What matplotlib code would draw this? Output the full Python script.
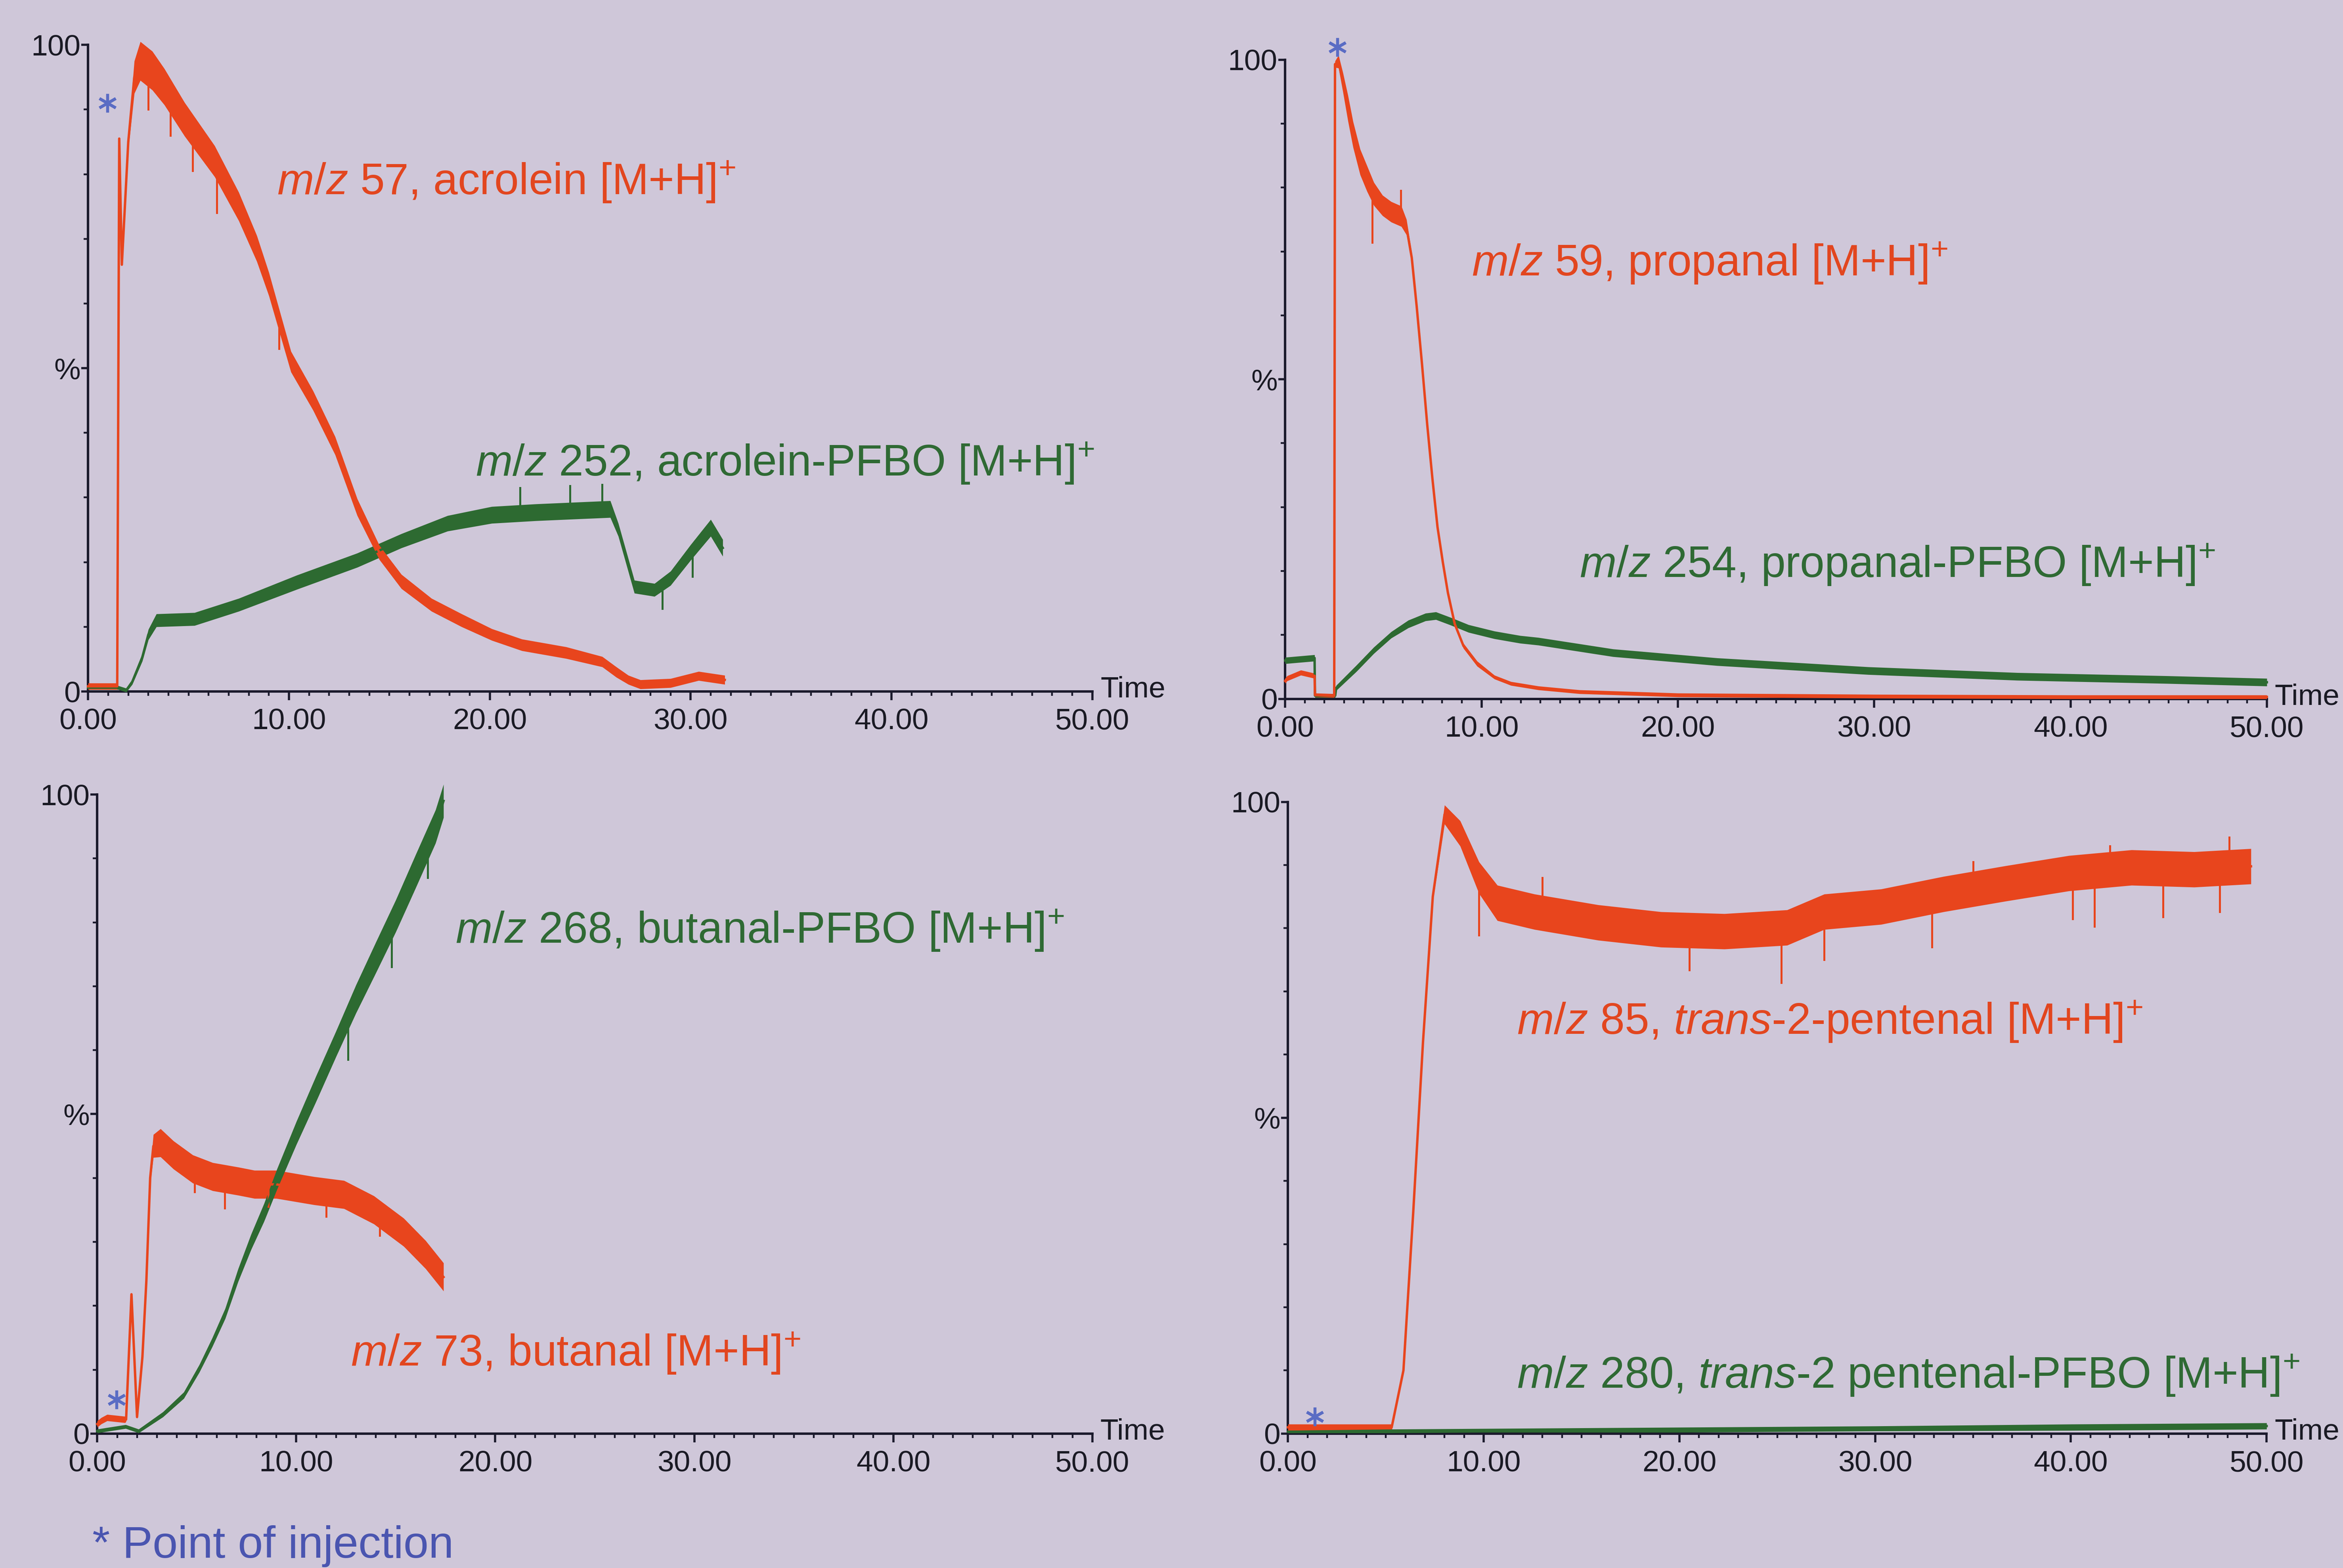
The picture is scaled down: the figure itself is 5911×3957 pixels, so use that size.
import numpy as np
import matplotlib
matplotlib.use("Agg")
import matplotlib.pyplot as plt
from matplotlib.ticker import FixedLocator, MultipleLocator

plt.rcParams["font.family"] = ["Liberation Sans", "DejaVu Sans"]
plt.rcParams["mathtext.fontset"] = "custom"
plt.rcParams["mathtext.rm"] = "Liberation Sans"
plt.rcParams["mathtext.it"] = "Liberation Sans:italic"
plt.rcParams["mathtext.bf"] = "Liberation Sans:bold"

# ---------------- data (time in min, relative intensity in %) ----------------
# acrolein panel
acr57_t = [0, 1.45, 1.55, 1.68, 2.0, 2.3, 2.6, 3.2, 3.8, 4.8, 6.3, 7.5, 8.4, 9.0, 10.1, 11.2,
           12.3, 13.4, 14.5, 15.6, 17.1, 18.6, 20.1, 21.6, 23.8, 25.6, 26.3, 26.9, 27.5, 29.0,
           30.4, 31.7]
acr57_v = [0.8, 0.8, 85.5, 66, 85, 95, 97.5, 96, 93.5, 88.5, 82, 75, 68.5, 63, 51, 45,
           38, 28.5, 21.5, 17, 13.4, 11, 8.8, 7.2, 6, 4.6, 3, 1.8, 1.1, 1.3,
           2.4, 1.8]
acr57_s = [0.5, 0.5, 0.3, 0.3, 1.2, 2.5, 3.0, 3.0, 2.8, 2.6, 2.4, 2.2, 2.0, 1.8, 1.6, 1.5,
           1.4, 1.3, 1.1, 1.1, 1.0, 1.0, 0.9, 0.9, 0.9, 0.8, 0.8, 0.7, 0.7, 0.7,
           0.7, 0.7]
acr57_spikes = [(3.0, 90.0), (4.1, 86.0), (5.2, 80.5), (6.4, 74.0), (9.5, 53.0)]

acr252_t = [0, 1.5, 1.9, 2.2, 2.7, 3.0, 3.4, 5.3, 7.5, 10.4, 13.4, 15.6, 17.9, 20.1, 22.3,
            24.5, 26.0, 26.4, 27.2, 28.2, 29.0, 30.0, 31.0, 31.6]
acr252_v = [0.6, 0.6, 0.2, 1.5, 5.3, 8.8, 11, 11.2, 13.4, 16.9, 20.3, 23.3, 26, 27.3, 27.7,
            28, 28.2, 25, 16.2, 15.7, 17.5, 21.5, 25.3, 22.2]
acr252_s = [0.3, 0.3, 0.3, 0.4, 0.6, 0.8, 1.0, 1.0, 1.0, 1.1, 1.1, 1.1, 1.2, 1.3, 1.3,
            1.3, 1.3, 1.0, 1.0, 1.0, 1.1, 1.2, 1.3, 1.3]
acr252_spikes = [(21.5, 31.5), (24.0, 31.8), (25.6, 32.0), (28.6, 12.8), (30.1, 17.8)]

# propanal panel
pro59_t = [0, 0.1, 0.8, 1.5, 1.52, 2.5, 2.54, 2.72, 2.94, 3.2, 3.46, 3.82, 4.17, 4.52, 4.96,
           5.4, 5.92, 6.18, 6.45, 6.7, 6.97, 7.24, 7.5, 7.76, 8.03, 8.29, 8.64, 9.08, 9.78,
           10.66, 11.5, 12.9, 15, 20, 30, 40, 50]
pro59_v = [2.8, 3.2, 4.1, 3.6, 0.6, 0.5, 99.3, 99.7, 96.5, 92.4, 88.3, 84, 81.4, 79, 77.2,
           76.2, 75.5, 73.8, 69, 61.4, 52.4, 42.8, 34.5, 26.9, 21.4, 16.6, 11.7, 8.3, 5.5,
           3.4, 2.4, 1.7, 1.1, 0.6, 0.4, 0.3, 0.3]
pro59_s = [0.4, 0.4, 0.4, 0.4, 0.3, 0.3, 0.5, 1.0, 1.5, 2.0, 2.0, 2.0, 2.0, 1.8, 1.6,
           1.6, 1.6, 1.2, 0.8, 0.6, 0.5, 0.5, 0.5, 0.5, 0.4, 0.4, 0.4, 0.4, 0.4,
           0.3, 0.3, 0.3, 0.3, 0.3, 0.3, 0.3, 0.3]
pro59_spikes = [(4.43, 71.4), (5.9, 79.5)]

pro254_t = [0, 1.5, 1.52, 2.55, 2.6, 3.64, 4.52, 5.4, 6.27, 7.15, 7.68, 8.46, 9.34, 10.66,
            11.97, 12.9, 16.7, 22, 29.7, 37.3, 44.9, 50]
pro254_v = [6.0, 6.4, 0.5, 0.5, 1.7, 4.8, 7.6, 10, 11.7, 12.8, 13, 12.1, 11, 10,
            9.3, 9, 7.2, 5.8, 4.4, 3.5, 3.0, 2.6]
pro254_s = [0.5, 0.5, 0.3, 0.3, 0.4, 0.5, 0.5, 0.5, 0.6, 0.6, 0.6, 0.6, 0.6, 0.6,
            0.6, 0.6, 0.6, 0.6, 0.6, 0.6, 0.6, 0.6]

# butanal panel
but73_t = [0, 0.2, 0.5, 1.4, 1.45, 1.72, 2.0, 2.27, 2.47, 2.66, 2.82, 3.18, 3.83, 4.8, 5.8,
           7.08, 7.9, 9.0, 10.9, 12.4, 13.9, 15.4, 16.5, 17.4]
but73_v = [1.5, 2.0, 2.5, 2.2, 2.2, 21.8, 2.6, 12, 24, 40, 45, 45.5, 43.6, 41.4, 40.2,
           39.5, 39, 39, 38, 37.4, 35, 31.5, 28, 24.5]
but73_s = [0.5, 0.5, 0.5, 0.5, 0.3, 0.3, 0.3, 0.5, 0.6, 1.0, 1.8, 2.2, 2.2, 2.2, 2.2,
           2.2, 2.2, 2.2, 2.2, 2.2, 2.2, 2.2, 2.2, 2.2]
but73_spikes = [(4.9, 37.8), (6.4, 35.3), (8.6, 35.5), (11.5, 34.0), (14.2, 31.0)]

but268_t = [0, 1.43, 2.08, 3.3, 4.35, 5.13, 5.78, 6.43, 7.08, 7.73, 8.38, 9.03, 10, 11, 12,
            13, 14, 15, 16, 17, 17.4]
but268_v = [0.4, 1.1, 0.4, 3, 6, 10.2, 14.3, 18.8, 24.8, 30, 34.6, 39.8, 47, 54, 61,
            68, 74.5, 81, 88, 95, 99]
but268_s = [0.3, 0.3, 0.3, 0.4, 0.5, 0.6, 0.7, 0.8, 1.0, 1.2, 1.4, 1.6, 1.8, 2.0, 2.0,
            2.2, 2.4, 2.5, 2.6, 2.6, 2.6]
but268_spikes = [(12.6, 58.5), (14.8, 73.0), (16.6, 87.0)]

# trans-2-pentenal panel
pen85_t = [0, 5.3, 5.9, 6.4, 6.9, 7.4, 8.0, 8.8, 9.76, 10.7, 12.6, 15.85, 19.06, 22.3, 25.5,
           27.4, 30.3, 33.5, 36.7, 39.9, 43.1, 46.3, 49.2]
pen85_v = [1.0, 1.0, 10, 35, 62, 85, 98, 95, 88, 84, 82.6, 80.9, 79.8, 79.5, 80.1,
           82.6, 83.4, 85.4, 87.1, 88.7, 89.6, 89.3, 89.8]
pen85_s = [0.5, 0.5, 0.4, 0.4, 0.4, 0.8, 1.5, 2.0, 2.5, 2.8, 2.8, 2.8, 2.8, 2.8, 2.8,
           2.8, 2.8, 2.8, 2.8, 2.8, 2.8, 2.8, 2.8]
pen85_spikes = [(9.76, 78.9), (20.5, 73.4), (25.2, 71.4), (27.4, 75.0), (32.9, 77.0),
                (40.1, 81.5), (41.2, 80.3), (44.7, 81.8), (47.6, 82.6), (48.1, 94.4),
                (13.0, 88.0), (35.0, 90.5), (42.0, 93.0)]

pen280_t = [0, 5, 10, 20, 30, 40, 50]
pen280_v = [0.3, 0.4, 0.5, 0.6, 0.8, 1.0, 1.2]
pen280_s = [0.2, 0.3, 0.3, 0.4, 0.4, 0.5, 0.5]

# injection markers (time, %)
inject_pts = [(0.96, 91), (2.66, 102), (0.97, 5.3), (1.38, 2.7)]

x_ticks = [0, 10, 20, 30, 40, 50]
x_ticklabels = ["0.00", "10.00", "20.00", "30.00", "40.00", "50.00"]
y_ticks = [0, 50, 100]
y_ticklabels = ["0", "%", "100"]

# ---------------- style ----------------
BG = "#cfc7d9"
RED = "#e8451d"
RED_TXT = "#e2461f"
GREEN = "#2d6a31"
GREEN_TXT = "#2f6a34"
BLUE = "#5a6cc4"
AXC = "#1b1a2c"
LABEL_FS = 40
TICK_FS = 27

fig = plt.figure(figsize=(5911 / 200, 3957 / 200), dpi=200, facecolor=BG)


def make_axes(rect):
    ax = fig.add_axes(rect)
    ax.set_facecolor("none")
    ax.set_xlim(0, 50)
    ax.set_ylim(0, 100)
    for s in ("top", "right"):
        ax.spines[s].set_visible(False)
    for s in ("left", "bottom"):
        ax.spines[s].set_color(AXC)
        ax.spines[s].set_linewidth(2.2)
    ax.xaxis.set_major_locator(FixedLocator(x_ticks))
    ax.set_xticklabels(x_ticklabels)
    ax.xaxis.set_minor_locator(MultipleLocator(1))
    ax.yaxis.set_major_locator(FixedLocator(y_ticks))
    ax.set_yticklabels(y_ticklabels)
    ax.yaxis.set_minor_locator(MultipleLocator(10))
    ax.tick_params(axis="both", which="major", direction="out", color=AXC,
                   width=2.0, labelsize=TICK_FS, labelcolor="#1a1a24")
    ax.tick_params(axis="x", which="major", length=8, pad=7)
    ax.tick_params(axis="y", which="major", length=6, pad=1)
    ax.tick_params(axis="both", which="minor", direction="out", color=AXC,
                   width=1.6, length=4)
    ax.text(50.4, 0.3, "Time", fontsize=TICK_FS, color="#1a1a24",
            ha="left", va="center", clip_on=False)
    return ax


def trace(ax, t, v, s, color, spikes=(), lw=2.2):
    t = np.asarray(t, float)
    v = np.asarray(v, float)
    s = np.asarray(s, float)
    ax.fill_between(t, v - s, v + s, color=color, lw=0, clip_on=False, zorder=3)
    ax.plot(t, v, color=color, lw=lw, clip_on=False, zorder=4,
            solid_joinstyle="round")
    for st, sv in spikes:
        base = np.interp(st, t, v)
        ax.plot([st, st], [base, sv], color=color, lw=1.8, clip_on=False, zorder=4)


def inject(ax, pt):
    ax.plot([pt[0]], [pt[1]], marker=(6, 2, 0), markersize=17, markeredgewidth=2.6,
            color=BLUE, linestyle="none", clip_on=False, zorder=5)


ax_tl = make_axes([0.0376, 0.559, 0.4286, 0.4124])
ax_tr = make_axes([0.5485, 0.5543, 0.4190, 0.4076])
ax_bl = make_axes([0.0415, 0.0857, 0.4247, 0.4076])
ax_br = make_axes([0.5497, 0.0857, 0.4177, 0.4029])

# acrolein
trace(ax_tl, acr252_t, acr252_v, acr252_s, GREEN, acr252_spikes)
trace(ax_tl, acr57_t, acr57_v, acr57_s, RED, acr57_spikes)
inject(ax_tl, inject_pts[0])
ax_tl.text(9.4, 78.8, r"$m/z$ 57, acrolein [M+H]$^{+}$", color=RED_TXT,
           fontsize=LABEL_FS, va="center", ha="left")
ax_tl.text(19.3, 35.3, r"$m/z$ 252, acrolein-PFBO [M+H]$^{+}$", color=GREEN_TXT,
           fontsize=LABEL_FS, va="center", ha="left")

# propanal
trace(ax_tr, pro254_t, pro254_v, pro254_s, GREEN)
trace(ax_tr, pro59_t, pro59_v, pro59_s, RED, pro59_spikes)
inject(ax_tr, inject_pts[1])
ax_tr.text(9.5, 68.2, r"$m/z$ 59, propanal [M+H]$^{+}$", color=RED_TXT,
           fontsize=LABEL_FS, va="center", ha="left")
ax_tr.text(15.0, 21.0, r"$m/z$ 254, propanal-PFBO [M+H]$^{+}$", color=GREEN_TXT,
           fontsize=LABEL_FS, va="center", ha="left")

# butanal
trace(ax_bl, but73_t, but73_v, but73_s, RED, but73_spikes)
trace(ax_bl, but268_t, but268_v, but268_s, GREEN, but268_spikes)
inject(ax_bl, inject_pts[2])
ax_bl.text(18.0, 78.7, r"$m/z$ 268, butanal-PFBO [M+H]$^{+}$", color=GREEN_TXT,
           fontsize=LABEL_FS, va="center", ha="left")
ax_bl.text(12.75, 12.6, r"$m/z$ 73, butanal [M+H]$^{+}$", color=RED_TXT,
           fontsize=LABEL_FS, va="center", ha="left")

# trans-2-pentenal
trace(ax_br, pen85_t, pen85_v, pen85_s, RED, pen85_spikes)
trace(ax_br, pen280_t, pen280_v, pen280_s, GREEN)
inject(ax_br, inject_pts[3])
ax_br.text(11.7, 65.2, r"$m/z$ 85, $trans$-2-pentenal [M+H]$^{+}$", color=RED_TXT,
           fontsize=LABEL_FS, va="center", ha="left")
ax_br.text(11.7, 9.2, r"$m/z$ 280, $trans$-2 pentenal-PFBO [M+H]$^{+}$", color=GREEN_TXT,
           fontsize=LABEL_FS, va="center", ha="left")

fig.text(0.0395, 0.014, "* Point of injection", color="#4a55b0", fontsize=41,
         ha="left", va="center")

fig.savefig("out.png", dpi=200, facecolor=BG)
